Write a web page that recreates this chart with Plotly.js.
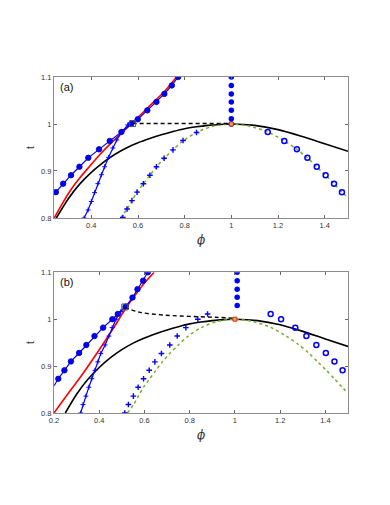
<!DOCTYPE html>
<html>
<head>
<meta charset="utf-8">
<script src="https://cdn.plot.ly/plotly-3.0.1.min.js"></script>
<style>html,body{margin:0;padding:0;background:#fff;}#chart{width:390px;height:505px;}</style>
</head>
<body>
<div id="chart"></div>
<script>
// ---------- shared curves (both panels) ----------
var blackPhi = [0.25,0.30,0.35,0.40,0.45,0.50,0.55,0.60,0.65,0.70,0.75,0.80,0.85,0.90,0.95,1.0,1.1,1.2,1.3,1.4,1.5];
var blackT   = [0.80,0.840,0.872,0.897,0.918,0.935,0.949,0.960,0.969,0.977,0.984,0.990,0.994,0.997,0.999,1.0,0.997,0.988,0.974,0.958,0.942];

var greenPhi = [0.525,0.553,0.574,0.596,0.623,0.651,0.679,0.712,0.75,0.793,0.851,0.92,1.0,1.08,1.156,1.227,1.281,1.326,1.366,1.404,1.44,1.474,1.5];
var greenT   = [0.80,0.819,0.837,0.855,0.873,0.891,0.909,0.927,0.945,0.964,0.982,0.995,1.0,0.995,0.983,0.964,0.946,0.928,0.909,0.891,0.873,0.855,0.843];

// ---------- panel (a) ----------
var aCircPhi = [0.248,0.279,0.313,0.349,0.387,0.433,0.479,0.529,0.570,0.599,0.640,0.679,0.713,0.745,0.772];
var aCircT   = [0.855,0.873,0.891,0.909,0.928,0.946,0.964,0.983,1.0,1.010,1.029,1.047,1.064,1.082,1.1];
var aRedPhi  = [0.241,0.275,0.308,0.35,0.393,0.435,0.478,0.524,0.570,0.62,0.67,0.72,0.765];
var aRedT    = [0.80,0.83,0.857,0.885,0.910,0.934,0.956,0.978,1.0,1.024,1.048,1.073,1.1];
var aPlusLinePhi = [0.369,0.386,0.40,0.414,0.428,0.443,0.457,0.474,0.492,0.509,0.532,0.556,0.577];
var aPlusLineT   = [0.80,0.817,0.835,0.854,0.873,0.892,0.909,0.929,0.949,0.966,0.984,0.998,1.002];
var aPlusPhi = [0.535,0.553,0.574,0.596,0.623,0.651,0.679,0.712,0.75,0.793,0.851];
var aPlusT   = [0.801,0.819,0.837,0.855,0.873,0.891,0.909,0.927,0.945,0.965,0.982];
var aOpenPhi = [1.156,1.227,1.281,1.326,1.366,1.404,1.44,1.474];
var aOpenT   = [0.983,0.964,0.946,0.928,0.909,0.891,0.873,0.855];
var aDotPhi  = [1.0,1.0,1.0,1.0,1.0,1.0,1.0];
var aDotT    = [1.0,1.011,1.029,1.047,1.064,1.082,1.1];
var aDashPhi = [0.577,1.0];
var aDashT   = [1.001,1.001];
var aSqPhi = [0.577], aSqT = [1.001];
var aOrPhi = [1.0],   aOrT = [1.0];

// ---------- panel (b) ----------
var bCircPhi = [0.2,0.219,0.246,0.275,0.311,0.343,0.379,0.417,0.458,0.482,0.517,0.547,0.569,0.594,0.615];
var bCircT   = [0.858,0.873,0.891,0.910,0.928,0.945,0.964,0.982,1.0,1.011,1.027,1.046,1.064,1.082,1.1];
var bRedPhi  = [0.2,0.26,0.325,0.414,0.48,0.513,0.56,0.6,0.643];
var bRedT    = [0.80,0.84,0.882,0.945,0.994,1.02,1.052,1.077,1.1];
var bPlusLinePhi = [0.318,0.328,0.341,0.354,0.367,0.381,0.394,0.407,0.426,0.443,0.457,0.474,0.495,0.513];
var bPlusLineT   = [0.80,0.818,0.836,0.855,0.873,0.891,0.909,0.927,0.945,0.964,0.982,1.0,1.016,1.026];
var bPlusPhi = [0.513,0.529,0.551,0.572,0.596,0.621,0.646,0.675,0.712,0.745,0.783,0.836,0.879];
var bPlusT   = [0.80,0.818,0.836,0.855,0.873,0.891,0.909,0.927,0.945,0.964,0.982,1.0,1.011];
var bOpenPhi = [1.158,1.204,1.267,1.316,1.36,1.402,1.44,1.476];
var bOpenT   = [1.011,1.0,0.982,0.964,0.945,0.928,0.910,0.891];
var bDotPhi  = [1.01,1.01,1.01,1.01,1.01];
var bDotT    = [1.029,1.047,1.064,1.082,1.1];
var bDashPhi = [0.513,0.576,0.68,0.798,0.916,1.0];
var bDashT   = [1.025,1.015,1.009,1.006,1.004,1.002];
var bSqPhi = [0.513], bSqT = [1.026];
var bOrPhi = [1.0],   bOrT = [1.0];

// tick labels
var yTickVals = [0.8,0.9,1,1.1];
var yTickText = ['0.8','0.9','1','1.1'];
var xTickValsA = [0.4,0.6,0.8,1.0,1.2,1.4];
var xTickTextA = ['0.4','0.6','0.8','1','1.2','1.4'];
var xTickValsB = [0.2,0.4,0.6,0.8,1.0,1.2,1.4];
var xTickTextB = ['0.2','0.4','0.6','0.8','1','1.2','1.4'];

var BLUE = '#0000FF', RED = '#FF0000', GREEN = '#77AC30';

function panel(xa, ya, d) {
  var ax = {xaxis: xa, yaxis: ya, showlegend: false, hoverinfo: 'skip', cliponaxis: true};
  function tr(o) { return Object.assign({}, ax, o); }
  return [
    tr({x: blackPhi, y: blackT, mode: 'lines', line: {color: '#000', width: 1.6, shape: 'spline', smoothing: 0.8}}),
    tr({x: greenPhi, y: greenT, mode: 'lines', line: {color: GREEN, width: 1.5, dash: '3px,3px', shape: 'spline', smoothing: 0.8}}),
    tr({x: d.redPhi, y: d.redT, mode: 'lines', line: {color: RED, width: 1.6, shape: 'spline', smoothing: 0.8}}),
    tr({x: d.circPhi, y: d.circT, mode: 'lines', line: {color: BLUE, width: 1.2}}),
    tr({x: d.circPhi.slice(d.circSkip), y: d.circT.slice(d.circSkip), mode: 'markers',
        marker: {symbol: 'circle', size: 5.5, color: BLUE, line: {color: '#0000AA', width: 0.8}}}),
    tr({x: d.plPhi, y: d.plT, mode: 'lines+markers', line: {color: BLUE, width: 1.2},
        marker: {symbol: 'cross-thin', size: 3.5, color: BLUE, line: {color: BLUE, width: 1}}}),
    tr({x: d.plusPhi, y: d.plusT, mode: 'markers',
        marker: {symbol: 'cross-thin', size: 4, color: BLUE, line: {color: BLUE, width: 1.4}}}),
    tr({x: d.openPhi, y: d.openT, mode: 'markers',
        marker: {symbol: 'circle-open', size: 5, color: BLUE, line: {color: BLUE, width: 1.5}}}),
    tr({x: d.dotPhi, y: d.dotT, mode: 'markers', marker: {symbol: 'circle', size: 5.5, color: BLUE}}),
    tr({x: d.dashPhi, y: d.dashT, mode: 'lines', line: {color: '#000', width: 1.4, dash: '4px,3px', shape: 'spline'}}),
    tr({x: d.sqPhi, y: d.sqT, mode: 'markers', marker: {symbol: 'square-open', size: 6, color: '#555', line: {color: '#555', width: 1}}}),
    tr({x: d.orPhi, y: d.orT, mode: 'markers', marker: {symbol: 'square', size: 4, color: '#F0A070', line: {color: '#D03010', width: 1}}})
  ];
}

var dataA = {circPhi: aCircPhi, circT: aCircT, circSkip: 0, redPhi: aRedPhi, redT: aRedT,
  plPhi: aPlusLinePhi, plT: aPlusLineT, plusPhi: aPlusPhi, plusT: aPlusT,
  openPhi: aOpenPhi, openT: aOpenT, dotPhi: aDotPhi, dotT: aDotT,
  dashPhi: aDashPhi, dashT: aDashT, sqPhi: aSqPhi, sqT: aSqT, orPhi: aOrPhi, orT: aOrT};
var dataB = {circPhi: bCircPhi, circT: bCircT, circSkip: 1, redPhi: bRedPhi, redT: bRedT,
  plPhi: bPlusLinePhi, plT: bPlusLineT, plusPhi: bPlusPhi, plusT: bPlusT,
  openPhi: bOpenPhi, openT: bOpenT, dotPhi: bDotPhi, dotT: bDotT,
  dashPhi: bDashPhi, dashT: bDashT, sqPhi: bSqPhi, sqT: bSqT, orPhi: bOrPhi, orT: bOrT};

var traces = panel('x', 'y', dataA).concat(panel('x2', 'y2', dataB));

var FONT = 'Liberation Sans, Arial, sans-serif';
function axisBase() {
  return {showline: true, mirror: 'ticks', linecolor: '#8c8c8c', linewidth: 1,
    ticks: 'inside', ticklen: 3, tickwidth: 1, tickcolor: '#666',
    showgrid: false, zeroline: false, fixedrange: true,
    tickfont: {family: FONT, size: 7.5, color: '#333'}};
}
var xA = Object.assign(axisBase(), {domain: [0, 1], anchor: 'y', range: [0.24, 1.5],
  tickvals: xTickValsA, ticktext: xTickTextA,
  title: {text: '<i>ϕ</i>', font: {family: 'DejaVu Serif, serif', size: 12, color: '#333'}, standoff: 6}});
var yA = Object.assign(axisBase(), {domain: [0.5804, 1], anchor: 'x', range: [0.8, 1.1],
  tickvals: yTickVals, ticktext: yTickText,
  title: {text: 't', font: {family: FONT, size: 10, color: '#333'}, standoff: 4}});
var xB = Object.assign(axisBase(), {domain: [0, 1], anchor: 'y2', range: [0.2, 1.5],
  tickvals: xTickValsB, ticktext: xTickTextB,
  title: {text: '<i>ϕ</i>', font: {family: 'DejaVu Serif, serif', size: 12, color: '#333'}, standoff: 6}});
var yB = Object.assign(axisBase(), {domain: [0, 0.4188], anchor: 'x2', range: [0.8, 1.1],
  tickvals: yTickVals, ticktext: yTickText,
  title: {text: 't', font: {family: FONT, size: 10, color: '#333'}, standoff: 4}});

var layout = {
  width: 390, height: 505,
  margin: {l: 54, r: 42, t: 77, b: 92},
  paper_bgcolor: '#fff', plot_bgcolor: '#fff',
  font: {family: FONT},
  xaxis: xA, yaxis: yA, xaxis2: xB, yaxis2: yB,
  annotations: [
    {text: '(a)', xref: 'x domain', yref: 'y domain', x: 0.015, y: 0.985, xanchor: 'left', yanchor: 'top',
     showarrow: false, font: {family: FONT, size: 11, color: '#111'}},
    {text: '(b)', xref: 'x2 domain', yref: 'y2 domain', x: 0.015, y: 0.985, xanchor: 'left', yanchor: 'top',
     showarrow: false, font: {family: FONT, size: 11, color: '#111'}}
  ]
};

Plotly.newPlot('chart', traces, layout, {staticPlot: true, displayModeBar: false});
</script>
</body>
</html>
